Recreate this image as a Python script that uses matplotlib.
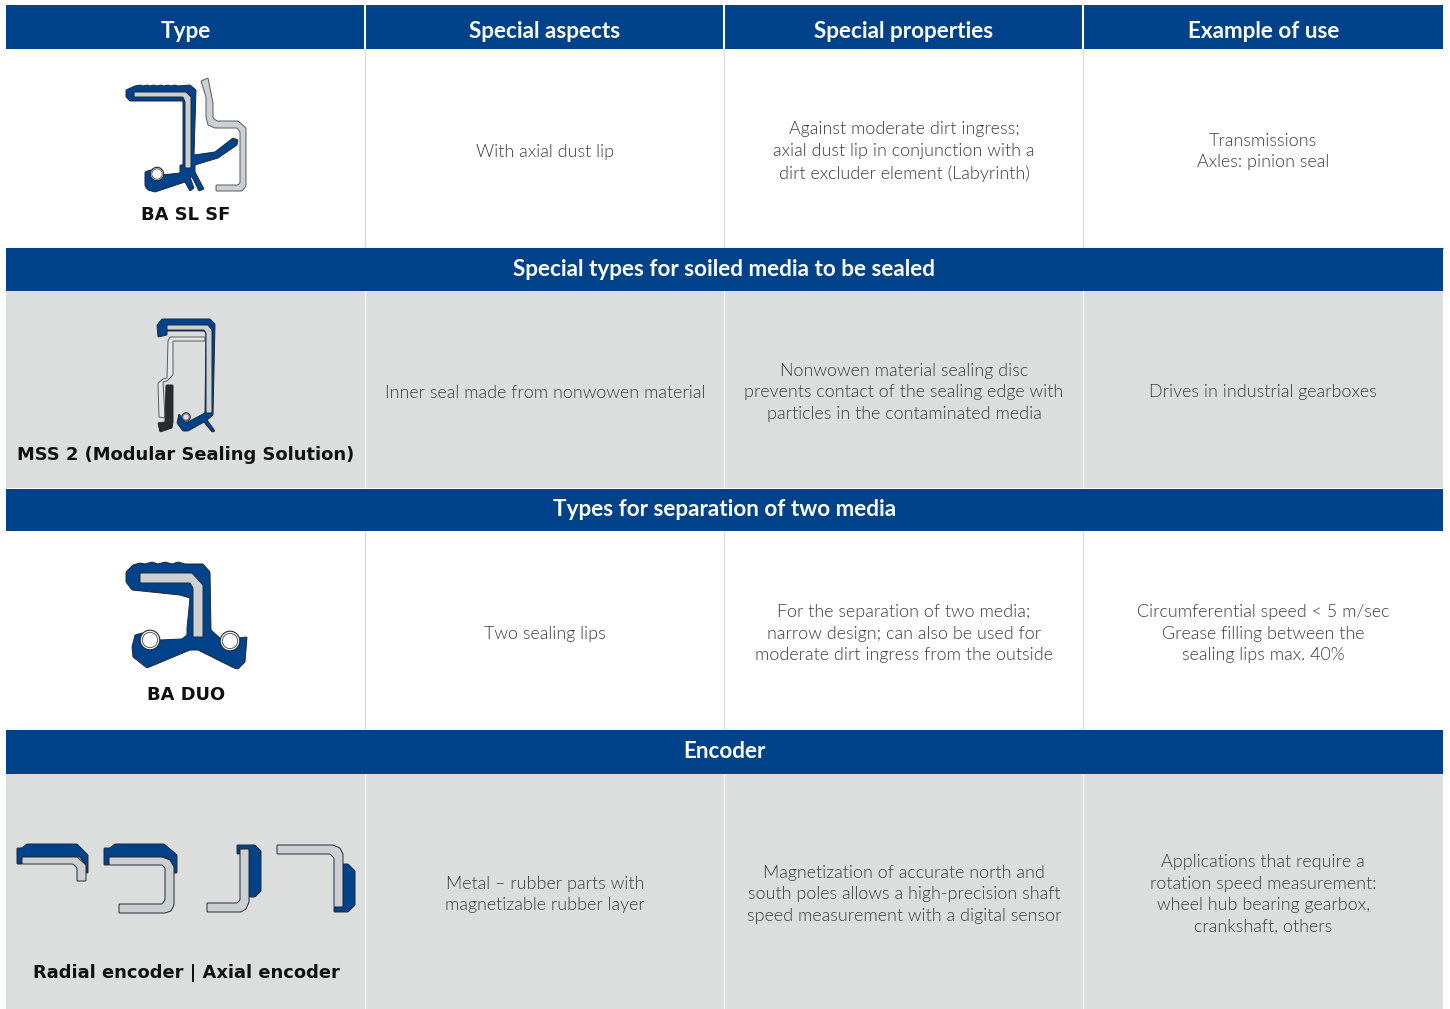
import matplotlib

matplotlib.use("Agg")
import matplotlib.pyplot as plt
import numpy as np
from matplotlib.patches import Circle, Polygon, Rectangle

NAVY = "#00428a"
GREY = "#dcdddd"
METAL = "#cdd0d2"
LINE = "#1d2a3a"

COLUMN_HEADERS = ["Type", "Special aspects", "Special properties", "Example of use"]
SECTION_HEADERS = [
    "Special types for soiled media to be sealed",
    "Types for separation of two media",
    "Encoder",
]
TYPE_LABELS = [
    "BA SL SF",
    "MSS 2 (Modular Sealing Solution)",
    "BA DUO",
    "Radial encoder | Axial encoder",
]
ASPECTS = [
    "With axial dust lip",
    "Inner seal made from nonwowen material",
    "Two sealing lips",
    "Metal – rubber parts with\nmagnetizable rubber layer",
]
PROPERTIES = [
    "Against moderate dirt ingress;\naxial dust lip in conjunction with a\ndirt excluder element (Labyrinth)",
    "Nonwowen material sealing disc\nprevents contact of the sealing edge with\nparticles in the contaminated media",
    "For the separation of two media;\nnarrow design; can also be used for\nmoderate dirt ingress from the outside",
    "Magnetization of accurate north and\nsouth poles allows a high-precision shaft\nspeed measurement with a digital sensor",
]
USES = [
    "Transmissions\nAxles: pinion seal",
    "Drives in industrial gearboxes",
    "Circumferential speed < 5 m/sec\nGrease filling between the\nsealing lips max. 40%",
    "Applications that require a\nrotation speed measurement:\nwheel hub bearing gearbox,\ncrankshaft, others",
]

# table layout in reference pixels
COL_EDGES = [6, 365.5, 724.5, 1083.5, 1443]
HEADER_ROWS = [(5, 49), (248, 291), (489, 531), (730, 774)]
BODY_ROWS = [(49, 248), (291, 488), (531, 730), (774, 1009)]
BODY_COLORS = ["white", GREY, "white", GREY]
RULE_COLORS = ["#dcdedf", "#f4f5f5", "#dcdedf", "#f4f5f5"]
LABEL_Y = [214.5, 454.5, 694.5, 972.5]


def rounded(points, radius):
    """Replaces every corner of a closed outline by a short quadratic curve."""
    pts = np.asarray(points, dtype=float)
    out = []
    for i, corner in enumerate(pts):
        prev_pt, next_pt = pts[i - 1], pts[(i + 1) % len(pts)]
        d0 = min(radius, np.linalg.norm(prev_pt - corner) / 2)
        d1 = min(radius, np.linalg.norm(next_pt - corner) / 2)
        start = corner + (prev_pt - corner) / np.linalg.norm(prev_pt - corner) * d0
        end = corner + (next_pt - corner) / np.linalg.norm(next_pt - corner) * d1
        for t in np.linspace(0, 1, 5):
            out.append((1 - t) ** 2 * start + 2 * t * (1 - t) * corner + t**2 * end)
    return np.array(out)


def shape(ax, points, face, edge=LINE, lw=0.7, zorder=3, radius=1.0):
    ax.add_patch(
        Polygon(rounded(points, radius), closed=True, facecolor=face, edgecolor=edge,
                linewidth=lw, zorder=zorder)
    )


def ring(ax, x, y, radius, back):
    ax.add_patch(Circle((x, y), radius, facecolor=back, edgecolor=LINE, linewidth=0.8, zorder=5))
    ax.add_patch(Circle((x, y), radius * 0.78, facecolor=back, edgecolor="#555a5e", linewidth=0.7, zorder=6))


def draw_ba_sl_sf(ax):
    shape(ax, [(126, 90), (135, 86), (140, 85), (143, 86), (147, 85), (150, 86), (154, 85), (157, 86), (161, 85),
               (164, 86), (168, 85), (171, 86), (175, 85), (178, 86), (190, 85), (196, 90), (194, 155),
               (215, 152), (233, 138), (238, 140), (237, 145), (218, 158), (195, 165), (195, 172), (204, 189),
               (199, 191), (192, 177), (190, 177), (194, 188), (190, 191), (185, 182), (155, 192), (148, 190),
               (145, 186), (145, 172), (150, 170), (162, 175), (180, 173), (180, 165), (183, 165), (183, 101),
               (130, 101), (126, 97)], NAVY)
    shape(ax, [(134, 92), (186, 92), (191, 97), (191, 168), (185, 168), (185, 102), (183, 97), (134, 97)],
          METAL, zorder=4)
    shape(ax, [(201, 81), (208, 78), (213, 103), (213, 118), (217, 121), (238, 121), (246, 128), (246, 186),
               (242, 191), (216, 191), (216, 185), (238, 185), (240, 183), (240, 132), (237, 128), (215, 128),
               (208, 125), (206, 117), (206, 97)], METAL, edge="#555a5e")
    ring(ax, 157, 174, 6.7, "white")


def draw_mss2(ax):
    shape(ax, [(157, 325), (162, 319), (210, 319), (215, 324), (213, 415), (207, 420), (215, 431), (212, 432),
               (204, 422), (188, 431), (183, 431), (177, 423), (179, 414), (186, 423), (205, 413), (206, 333),
               (204, 331), (167, 331), (167, 335), (158, 337)], NAVY)
    shape(ax, [(167, 325), (208, 325), (212, 330), (212, 413), (206, 413), (206, 333), (204, 330), (167, 330)],
          METAL, zorder=4)
    shape(ax, [(170, 337), (205, 337), (205, 341), (173, 341), (173, 375), (167, 381), (163, 382), (165, 418),
               (159, 417), (158, 383), (163, 379), (167, 378), (168, 341)], "#e4e5e6", edge="#555a5e")
    shape(ax, [(166, 385), (173, 385), (173, 422), (172, 428), (160, 432), (158, 423), (165, 422)], "#2b2b2b",
          zorder=4)
    ring(ax, 186, 417, 4.2, GREY)


def draw_ba_duo(ax):
    shape(ax, [(126, 572), (133, 565), (140, 563), (145, 564), (152, 562), (158, 564), (165, 562), (172, 564),
               (178, 562), (185, 564), (203, 564), (210, 572), (211, 630), (222, 640), (247, 637), (245, 662),
               (238, 669), (234, 668), (198, 650), (190, 650), (147, 668), (133, 657), (132, 647), (135, 635),
               (142, 633), (160, 640), (182, 639), (187, 635), (187, 628), (190, 598), (180, 595), (132, 590),
               (126, 582)], NAVY)
    shape(ax, [(140, 573), (192, 573), (203, 585), (203, 637), (193, 637), (193, 588), (190, 583), (140, 583)],
          METAL, zorder=4)
    ring(ax, 150, 640, 9.8, "white")
    ring(ax, 230, 641, 9.8, "white")


def draw_encoders(ax):
    # radial, short leg
    shape(ax, [(17, 848), (22, 848), (27, 844), (77, 844), (88, 855), (88, 873), (86, 873), (86, 866), (80, 857),
               (22, 857), (22, 864), (17, 864)], NAVY)
    shape(ax, [(22, 857), (77, 857), (86, 865), (86, 881), (77, 881), (77, 868), (73, 864), (22, 864)], METAL,
          zorder=4)
    # radial, long leg
    shape(ax, [(104, 848), (110, 848), (115, 844), (164, 844), (177, 855), (177, 873), (173, 873), (173, 865),
               (165, 857), (109, 857), (109, 865), (104, 865)], NAVY)
    shape(ax, [(109, 857), (162, 857), (170, 860), (174, 867), (174, 905), (171, 911), (165, 913), (119, 913),
               (119, 904), (162, 904), (165, 900), (165, 868), (162, 865), (109, 865)], METAL, zorder=4)
    # axial, short leg
    shape(ax, [(237, 845), (255, 845), (261, 851), (261, 891), (255, 897), (249, 897), (249, 849), (240, 849),
               (240, 854), (237, 854)], NAVY)
    shape(ax, [(240, 849), (249, 849), (249, 902), (246, 909), (241, 912), (207, 912), (207, 903), (237, 903),
               (240, 900)], METAL, zorder=4)
    # axial, long leg
    shape(ax, [(343, 864), (348, 864), (355, 871), (355, 905), (348, 912), (334, 912), (334, 907), (343, 907)],
          NAVY)
    shape(ax, [(277, 845), (333, 845), (340, 848), (343, 854), (343, 907), (334, 907), (334, 858), (330, 854),
               (277, 854)], METAL, zorder=4)


def main():
    plt.rcParams["font.family"] = ["Lato", "DejaVu Sans"]
    fig = plt.figure(figsize=(14.5, 10.09), dpi=100)
    ax = fig.add_axes([0, 0, 1, 1])
    ax.set_xlim(0, 1450)
    ax.set_ylim(1009, 0)
    ax.axis("off")

    left, right = COL_EDGES[0], COL_EDGES[-1]
    for (top, bottom), color, rule in zip(BODY_ROWS, BODY_COLORS, RULE_COLORS):
        ax.add_patch(Rectangle((left, top), right - left, bottom - top, facecolor=color, edgecolor="none"))
        for x in COL_EDGES[1:-1]:
            ax.plot([x, x], [top, bottom], color=rule, lw=1, zorder=1.5)
    for top, bottom in HEADER_ROWS:
        ax.add_patch(Rectangle((left, top), right - left, bottom - top, facecolor=NAVY, edgecolor="none", zorder=2))
    for x in COL_EDGES[1:-1]:
        ax.plot([x, x], [5, 49], color="white", lw=1.5, zorder=3)
    ax.plot([left, right], [247.5, 247.5], color="#8a8d90", lw=0.8, zorder=1.5)

    header_style = dict(color="white", fontsize=16.2, fontweight="bold", ha="center", va="center", zorder=4)
    for i, title in enumerate(COLUMN_HEADERS):
        ax.text((COL_EDGES[i] + COL_EDGES[i + 1]) / 2, 31.5, title, **header_style)
    for (top, bottom), title in zip(HEADER_ROWS[1:], SECTION_HEADERS):
        ax.text((left + right) / 2, (top + bottom) / 2, title, **header_style)

    body_style = dict(color="#3c3c3c", fontsize=12.9, fontweight=300, ha="center", va="center",
                      linespacing=1.45, zorder=4)
    for i, (top, bottom) in enumerate(BODY_ROWS):
        mid = (top + bottom) / 2
        ax.text(186, LABEL_Y[i], TYPE_LABELS[i], color="#111111", fontsize=12.9, fontweight="bold",
                family="DejaVu Sans", ha="center", va="center", zorder=4)
        ax.text((COL_EDGES[1] + COL_EDGES[2]) / 2, mid + 3, ASPECTS[i], **body_style)
        ax.text((COL_EDGES[2] + COL_EDGES[3]) / 2, mid + 3, PROPERTIES[i], **body_style)
        ax.text((COL_EDGES[3] + COL_EDGES[4]) / 2, mid + 3, USES[i], **body_style)

    draw_ba_sl_sf(ax)
    draw_mss2(ax)
    draw_ba_duo(ax)
    draw_encoders(ax)

    fig.savefig("out.png", dpi=100)
    plt.close(fig)


if __name__ == "__main__":
    main()
